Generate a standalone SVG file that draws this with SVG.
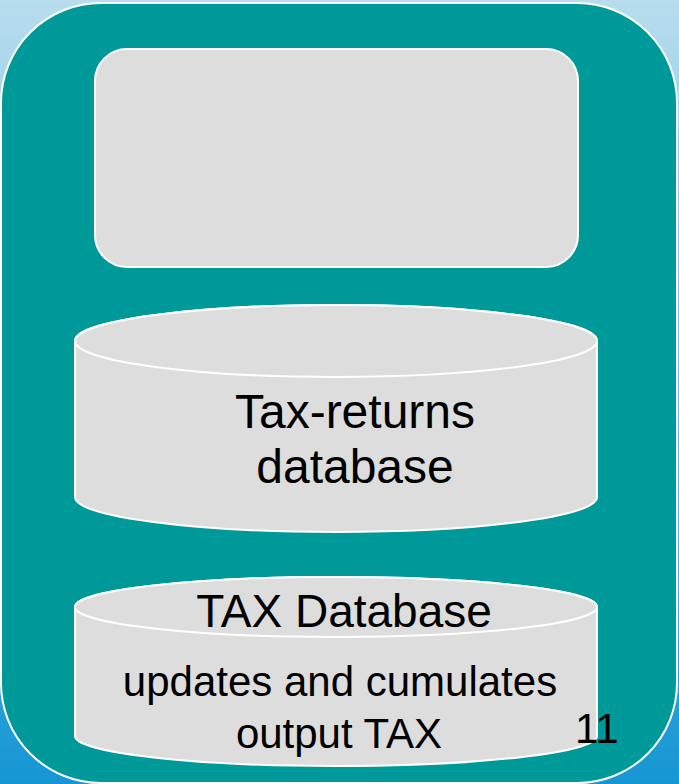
<svg xmlns="http://www.w3.org/2000/svg" width="679" height="784" viewBox="0 0 679 784">
<defs>
<linearGradient id="bg" x1="0" y1="0" x2="0" y2="1">
<stop offset="0" stop-color="#b8dded"/>
<stop offset="0.5" stop-color="#6cbde2"/>
<stop offset="1" stop-color="#1596d3"/>
</linearGradient>
<style>
.shape{fill:#dddddd;stroke:#ffffff;stroke-width:2}
.lbl{font-family:"Liberation Sans",Arial,sans-serif;fill:#000000;text-anchor:middle}
</style>
</defs>
<rect x="0" y="0" width="679" height="784" fill="url(#bg)"/>
<g id="frame">
<rect x="1" y="3" width="676" height="780" rx="100" ry="100" fill="#009999" stroke="#ffffff" stroke-width="2"/>
</g>
<g id="box">
<rect class="shape" x="95" y="49" width="483" height="218" rx="32" ry="32"/>
</g>
<g id="tax-returns-db">
<path class="shape" d="M75,341 L75,497 A261,35 0 0,0 597,497 L597,341 A261,36 0 0,0 75,341 Z"/>
<ellipse class="shape" cx="336" cy="341" rx="261" ry="36"/>
<text class="lbl" x="355" y="428" font-size="48">Tax-returns</text>
<text class="lbl" x="355" y="483" font-size="48">database</text>
</g>
<g id="tax-db">
<path class="shape" d="M75,607 L75,736 A261,30 0 0,0 597,736 L597,607 A261,30 0 0,0 75,607 Z"/>
<ellipse class="shape" cx="336" cy="607" rx="261" ry="30"/>
<text class="lbl" x="344" y="627" font-size="46">TAX Database</text>
<text class="lbl" x="340" y="696" font-size="42">updates and cumulates</text>
<text class="lbl" x="339" y="748" font-size="42">output TAX</text>
</g>
<g id="connectors"></g>
<text x="575" y="743" font-family="Liberation Sans,Arial,sans-serif" font-size="42" fill="#000000">11</text>
</svg>
